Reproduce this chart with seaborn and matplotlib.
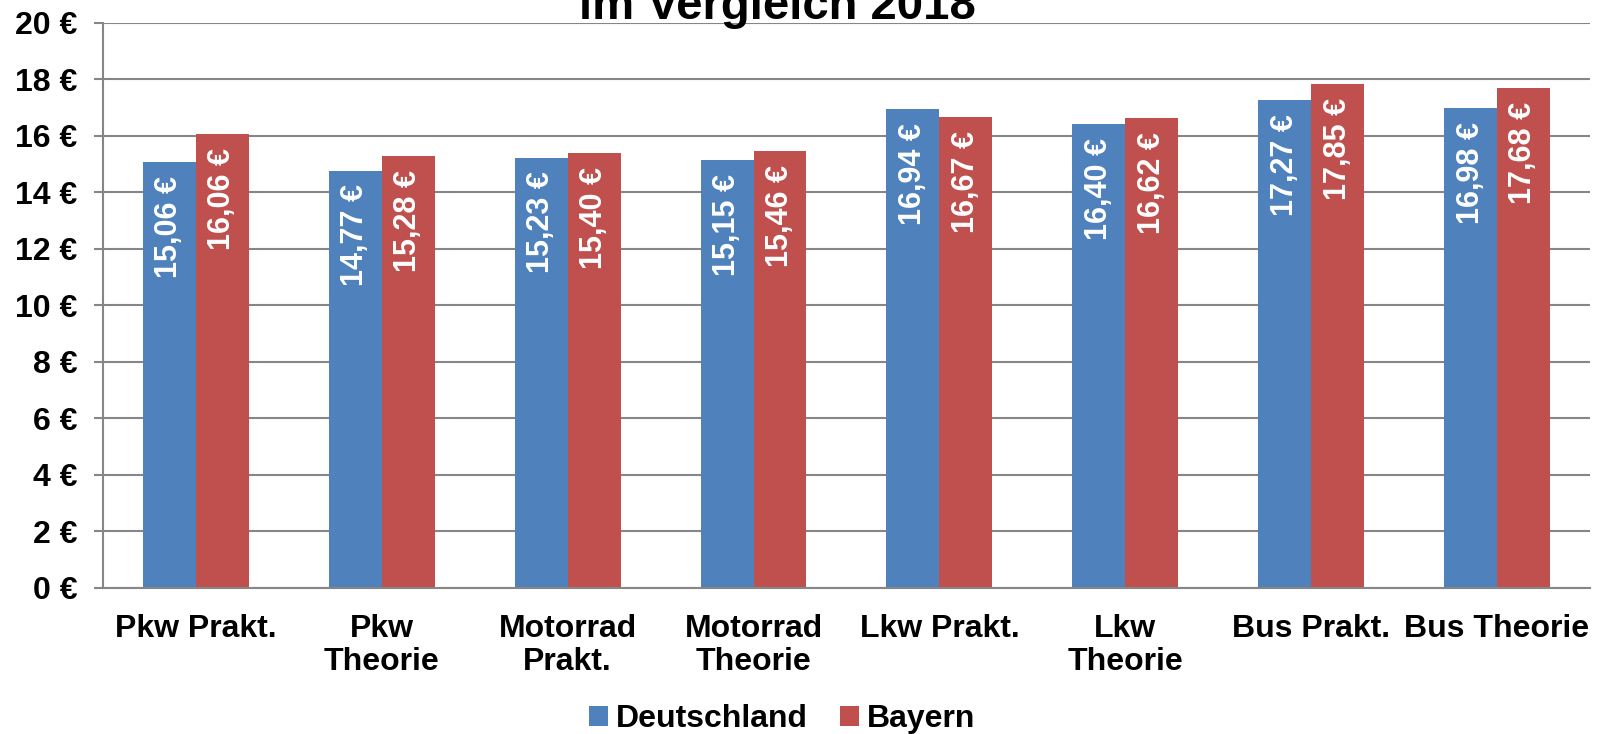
import numpy as np
import pandas as pd
import seaborn as sns
import matplotlib.pyplot as plt
from matplotlib.ticker import FixedLocator

# chart data
kategorien = ['Pkw Prakt.', 'Pkw\nTheorie', 'Motorrad\nPrakt.', 'Motorrad\nTheorie',
              'Lkw Prakt.', 'Lkw\nTheorie', 'Bus Prakt.', 'Bus Theorie']
deutschland = [15.06, 14.77, 15.23, 15.15, 16.94, 16.40, 17.27, 16.98]
bayern = [16.06, 15.28, 15.40, 15.46, 16.67, 16.62, 17.85, 17.68]
regionen = ['Deutschland', 'Bayern']
y_ticks = [0, 2, 4, 6, 8, 10, 12, 14, 16, 18, 20]
titel = 'im Vergleich 2018'

df = pd.DataFrame({
    'Kategorie': kategorien * 2,
    'Preis': deutschland + bayern,
    'Region': ['Deutschland'] * len(kategorien) + ['Bayern'] * len(kategorien),
})

sns.set_theme(style='white')
plt.rcParams['font.family'] = ['Liberation Sans', 'DejaVu Sans']
plt.rcParams['font.weight'] = 'bold'
plt.rcParams['text.color'] = 'black'
plt.rcParams['xtick.labelcolor'] = 'black'
plt.rcParams['ytick.labelcolor'] = 'black'

grau = '#868686'
farben = ['#4F81BD', '#C0504D']

fig = plt.figure(figsize=(16.06, 7.34), dpi=100)
ax = fig.add_axes([0.0641, 0.199, 0.9259, 0.770])

sns.barplot(data=df, x='Kategorie', y='Preis', hue='Region', hue_order=regionen,
            palette=farben, saturation=1, width=0.57, gap=0, linewidth=0, ax=ax)

# value labels inside the bars, rotated
for cont in ax.containers:
    for bar in cont:
        v = bar.get_height()
        ax.annotate(f'{v:.2f} €'.replace('.', ','),
                    (bar.get_x() + bar.get_width() / 2, v),
                    xytext=(0, -10), textcoords='offset points',
                    rotation=90, ha='center', va='top',
                    color='white', fontsize=22, fontweight='bold')

ax.set_ylim(0, 20)
ax.set_xlim(-0.5, len(kategorien) - 0.5)
ax.set_yticks(y_ticks)
ax.set_yticklabels([f'{t} €' for t in y_ticks], fontsize=23, fontweight='bold', color='black')
ax.set_xticks(range(len(kategorien)))
ax.set_xticklabels(kategorien, fontsize=23, fontweight='bold', linespacing=1.12, color='black')
ax.xaxis.set_minor_locator(FixedLocator(np.arange(-0.5, len(kategorien), 1)))
ax.tick_params(axis='x', which='major', length=0, pad=19)
ax.tick_params(axis='x', which='minor', length=7, width=1.5, color=grau, direction='out')
ax.tick_params(axis='y', length=6.5, width=1.5, color=grau, direction='out', pad=12, left=True)
ax.set_xlabel('')
ax.set_ylabel('')

ax.yaxis.grid(True, color=grau, linewidth=1.5)
ax.set_axisbelow(True)
for s in ['top', 'right']:
    ax.spines[s].set_visible(False)
for s in ['left', 'bottom']:
    ax.spines[s].set_color(grau)
    ax.spines[s].set_linewidth(1.5)

handles, labels = ax.get_legend_handles_labels()
ax.legend_.remove()
fig.legend(handles, labels, loc='center', bbox_to_anchor=(0.487, 0.02), ncol=2,
           frameon=False, prop={'weight': 'bold', 'size': 23},
           handlelength=0.6, handleheight=0.6, handletextpad=0.25, columnspacing=1.0)

fig.text(0.484, 1 - 19 / 734, titel, ha='center', va='baseline',
         fontsize=34, fontweight='bold')

fig.savefig('out.png', dpi=100)
